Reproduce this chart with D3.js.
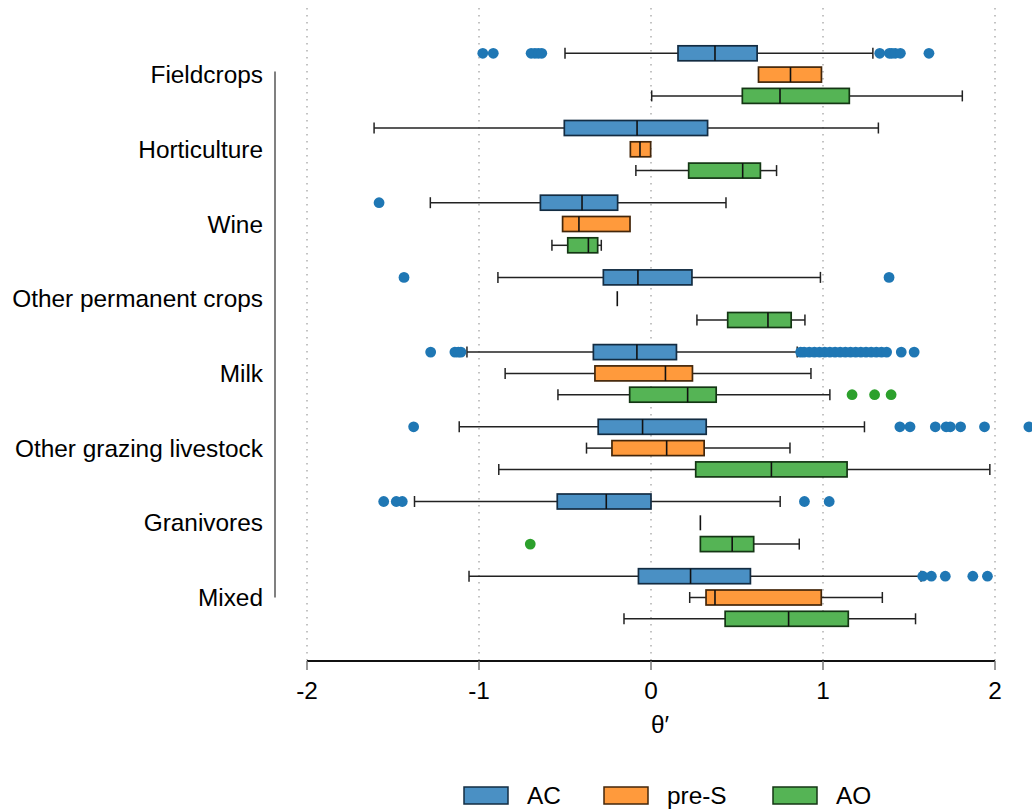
<!DOCTYPE html>
<html>
<head>
<meta charset="utf-8">
<script src="https://cdn.jsdelivr.net/npm/d3@7"></script>
<style>
  body { margin: 0; background: #fff; }
  svg { font-family: "Liberation Sans", Arial, sans-serif; }
</style>
</head>
<body>
<script>
(function() {

    const width = 1032;
    const height = 810;

    const categories = ["Fieldcrops", "Horticulture", "Wine", "Other permanent crops",
        "Milk", "Other grazing livestock", "Granivores", "Mixed"];
    const seriesNames = ["AC", "pre-S", "AO"];
    const xTicks = [-2, -1, 0, 1, 2];

    // [lower whisker, q1, median, q3, upper whisker] per category
    const acStats = [
        [-0.50, 0.157, 0.372, 0.617, 1.29],
        [-1.61, -0.504, -0.081, 0.329, 1.322],
        [-1.283, -0.643, -0.401, -0.194, 0.436],
        [-0.89, -0.277, -0.076, 0.238, 0.985],
        [-1.07, -0.335, -0.082, 0.148, 0.85],
        [-1.115, -0.307, -0.049, 0.321, 1.241],
        [-1.375, -0.545, -0.26, 0.0, 0.751],
        [-1.058, -0.073, 0.23, 0.578, 1.57]
    ];
    const preSStats = [
        [0.625, 0.625, 0.811, 0.991, 0.991],
        [-0.12, -0.12, -0.064, -0.002, -0.002],
        [-0.514, -0.514, -0.419, -0.122, -0.122],
        [-0.196, -0.196, -0.196, -0.196, -0.196],
        [-0.848, -0.326, 0.084, 0.241, 0.93],
        [-0.375, -0.227, 0.091, 0.309, 0.808],
        [0.287, 0.287, 0.287, 0.287, 0.287],
        [0.225, 0.32, 0.372, 0.99, 1.345]
    ];
    const aoStats = [
        [0.004, 0.531, 0.75, 1.153, 1.81],
        [-0.088, 0.219, 0.533, 0.636, 0.73],
        [-0.576, -0.484, -0.364, -0.31, -0.289],
        [0.267, 0.446, 0.68, 0.815, 0.895],
        [-0.541, -0.124, 0.213, 0.379, 1.04],
        [-0.885, 0.26, 0.70, 1.14, 1.97],
        [0.287, 0.287, 0.472, 0.597, 0.862],
        [-0.157, 0.431, 0.80, 1.147, 1.538]
    ];

    // outlier points per category
    const acOutliers = [
        [-0.978, -0.917, -0.697, -0.675, -0.655, -0.635, 1.33, 1.386, 1.40, 1.42, 1.45, 1.616],
        [],
        [-1.581],
        [-1.436, 1.384],
        [-1.281, -1.14, -1.12, -1.105, 0.87, 0.89, 0.92, 0.95, 0.98, 1.01, 1.04, 1.07,
            1.10, 1.13, 1.16, 1.19, 1.22, 1.25, 1.28, 1.31, 1.34, 1.37, 1.455, 1.53],
        [-1.38, 1.447, 1.506, 1.653, 1.716, 1.74, 1.80, 1.939, 2.197],
        [-1.554, -1.481, -1.446, 0.892, 1.036],
        [1.58, 1.63, 1.711, 1.871, 1.956]
    ];
    const preSOutliers = [[], [], [], [], [], [], [], []];
    const aoOutliers = [
        [], [], [], [],
        [1.169, 1.30, 1.396],
        [],
        [-0.702],
        []
    ];

    const fills = ["#4a90c4", "#ff9a3c", "#55b455"];
    const strokes = ["#132c42", "#43260a", "#143614"];
    const dotColors = ["#1f77b4", "#ff7f0e", "#2ca02c"];

    const allStats = [acStats, preSStats, aoStats];
    const allOutliers = [acOutliers, preSOutliers, aoOutliers];

    const svg = d3.select("body").append("svg")
        .attr("width", width)
        .attr("height", height);

    const x = d3.scaleLinear().domain([-2, 2]).range([307, 995]);
    const y = d3.scalePoint().domain(categories).range([74.6, 597.5]);
    const offset = d3.scalePoint().domain(seriesNames).range([-21.3, 21.3]);

    const axisY = 661;
    const boxH = 15;
    const capH = 11;

    // dotted grid lines
    svg.append("g").selectAll("line")
        .data(xTicks)
        .enter().append("line")
        .attr("x1", d => x(d)).attr("x2", d => x(d))
        .attr("y1", 8).attr("y2", axisY)
        .attr("stroke", "#b0b0b0")
        .attr("stroke-width", 1.5)
        .attr("stroke-dasharray", "1.5,5.5");

    // flatten boxes
    let boxes = [];
    categories.forEach((c, i) => {
        seriesNames.forEach((s, j) => {
            const st = allStats[j][i];
            boxes.push({ cat: c, ser: s, j: j, lo: st[0], q1: st[1], med: st[2], q3: st[3], hi: st[4],
                outliers: allOutliers[j][i] });
        });
    });

    const g = svg.append("g").selectAll("g")
        .data(boxes)
        .enter().append("g")
        .attr("transform", d => "translate(0," + (y(d.cat) + offset(d.ser)) + ")");

    // whiskers
    g.filter(d => d.lo < d.q1).append("line")
        .attr("x1", d => x(d.lo)).attr("x2", d => x(d.q1))
        .attr("y1", 0).attr("y2", 0)
        .attr("stroke", "#222").attr("stroke-width", 1.5);
    g.filter(d => d.hi > d.q3).append("line")
        .attr("x1", d => x(d.q3)).attr("x2", d => x(d.hi))
        .attr("y1", 0).attr("y2", 0)
        .attr("stroke", "#222").attr("stroke-width", 1.5);
    g.filter(d => d.lo < d.q1).append("line")
        .attr("x1", d => x(d.lo)).attr("x2", d => x(d.lo))
        .attr("y1", -capH / 2).attr("y2", capH / 2)
        .attr("stroke", "#222").attr("stroke-width", 1.5);
    g.filter(d => d.hi > d.q3).append("line")
        .attr("x1", d => x(d.hi)).attr("x2", d => x(d.hi))
        .attr("y1", -capH / 2).attr("y2", capH / 2)
        .attr("stroke", "#222").attr("stroke-width", 1.5);

    // boxes
    g.append("rect")
        .attr("x", d => x(d.q1))
        .attr("width", d => x(d.q3) - x(d.q1))
        .attr("y", -boxH / 2)
        .attr("height", boxH)
        .attr("fill", d => fills[d.j])
        .attr("stroke", d => strokes[d.j])
        .attr("stroke-width", 1.7);

    // medians
    g.append("line")
        .attr("x1", d => x(d.med)).attr("x2", d => x(d.med))
        .attr("y1", -boxH / 2).attr("y2", boxH / 2)
        .attr("stroke", "#111").attr("stroke-width", 1.6);

    // outliers
    g.selectAll("circle")
        .data(d => d.outliers.map(v => ({ v: v, j: d.j })))
        .enter().append("circle")
        .attr("cx", d => x(d.v))
        .attr("cy", 0)
        .attr("r", 5.4)
        .attr("fill", d => dotColors[d.j]);

    // x axis
    const xAxis = svg.append("g");
    xAxis.append("line")
        .attr("x1", x(-2)).attr("x2", x(2))
        .attr("y1", axisY).attr("y2", axisY)
        .attr("stroke", "#111").attr("stroke-width", 2);
    xAxis.selectAll(".tick")
        .data(xTicks)
        .enter().append("line")
        .attr("x1", d => x(d)).attr("x2", d => x(d))
        .attr("y1", axisY).attr("y2", axisY + 9)
        .attr("stroke", "#777").attr("stroke-width", 1.5);
    xAxis.selectAll("text")
        .data(xTicks)
        .enter().append("text")
        .attr("x", d => x(d))
        .attr("y", axisY + 38)
        .attr("text-anchor", "middle")
        .style("font-size", "24.4px")
        .text(d => d);

    svg.append("text")
        .attr("x", 660)
        .attr("y", 733)
        .attr("text-anchor", "middle")
        .style("font-size", "24.4px")
        .text("θ′");

    // y axis
    svg.append("line")
        .attr("x1", 275).attr("x2", 275)
        .attr("y1", y(categories[0]) - 3).attr("y2", y(categories[categories.length - 1]))
        .attr("stroke", "#808080").attr("stroke-width", 2);
    svg.append("g").selectAll("text")
        .data(categories)
        .enter().append("text")
        .attr("x", 263)
        .attr("y", d => y(d))
        .attr("dy", "0.35em")
        .attr("text-anchor", "end")
        .style("font-size", "24.4px")
        .text(d => d);

    // legend
    const legendX = [464, 604, 773];
    const legend = svg.append("g").selectAll("g")
        .data(seriesNames)
        .enter().append("g")
        .attr("transform", (d, i) => "translate(" + legendX[i] + ",787)");
    legend.append("rect")
        .attr("width", 44)
        .attr("height", 17)
        .attr("fill", (d, i) => fills[i])
        .attr("stroke", (d, i) => strokes[i])
        .attr("stroke-width", 1.5);
    legend.append("text")
        .attr("x", 63)
        .attr("y", 8.5)
        .attr("dy", "0.35em")
        .style("font-size", "24.4px")
        .text(d => d);

})();
</script>
</body>
</html>
